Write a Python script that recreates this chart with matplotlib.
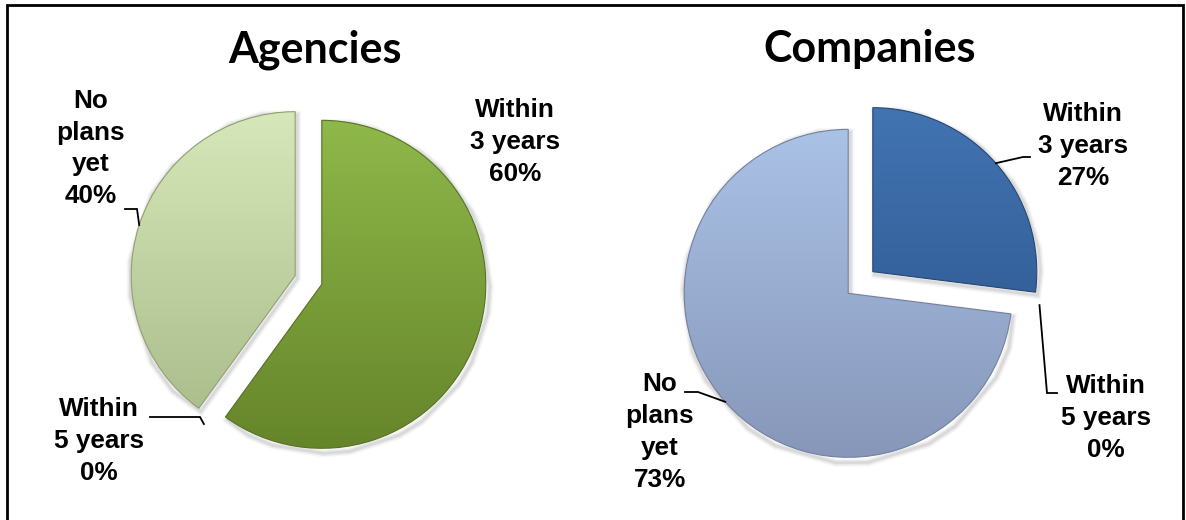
import numpy as np
import matplotlib
matplotlib.use("Agg")
import matplotlib.pyplot as plt
from matplotlib.patches import Rectangle
from matplotlib.colors import to_rgb

W, H = 1186, 520

# ---- data ----
categories = ["Within\n3 years", "Within\n5 years", "No\nplans\nyet"]
agencies = [60, 0, 40]
companies = [27, 0, 73]
titles = ["Agencies", "Companies"]

# ---- styling ----
agency_colors = [("#8fb84a", "#66852a"), ("#8fb84a", "#66852a"), ("#d6e7b9", "#a8ba88")]
company_colors = [("#4274b2", "#2a5288"), ("#4274b2", "#2a5288"), ("#aac2e6", "#8797b9")]

fig = plt.figure(figsize=(W / 100, H / 100), dpi=100)
ax = fig.add_axes([0, 0, 1, 1])


def Y(y):
    return H - y


def draw_pie(values, center, radius, explode, colors):
    wedges, _ = ax.pie(values, startangle=90, counterclock=False,
                       explode=[explode] * len(values), center=center,
                       radius=radius, frame=True,
                       wedgeprops=dict(linewidth=0))
    for w, v, (ctop, cbot) in zip(wedges, values, colors):
        if v <= 0:
            w.set_visible(False)
            continue
        cx, cy = w.center
        r = w.r
        # soft shadow
        for k, a in [(6, 0.03), (4, 0.05), (2, 0.07)]:
            sh = plt.Polygon(w.get_path().vertices + np.array([2.0, -3.0]),
                             closed=True, facecolor="none", edgecolor="black",
                             linewidth=k, alpha=a, zorder=0.5)
            ax.add_patch(sh)
        n = 256
        t = np.linspace(0, 1, n)[:, None]
        c0 = np.array(to_rgb(ctop))
        c1 = np.array(to_rgb(cbot))
        grad = (c0[None, :] * (1 - t) + c1[None, :] * t)[:, None, :]
        img = ax.imshow(grad, extent=[cx - r, cx + r, cy - r, cy + r],
                        origin="upper", aspect="auto", zorder=1,
                        interpolation="bilinear")
        img.set_clip_path(w)
        w.set_facecolor("none")
        w.set_edgecolor(tuple(c1 * 0.85))
        w.set_linewidth(0.8)
        w.set_zorder(2)
    return wedges


def anchor(w):
    mid = np.deg2rad((w.theta1 + w.theta2) / 2.0)
    return (w.center[0] + w.r * np.cos(mid), w.center[1] + w.r * np.sin(mid))


# explode is in data (pixel) units because radius is in pixels
wa = draw_pie(agencies, (308.5, Y(280)), 164, 14, agency_colors)
wc = draw_pie(companies, (860.5, Y(282.5)), 164, 16.4, company_colors)

# titles
title_font = dict(family="Lato", weight="bold", fontsize=31)
ax.text(315, Y(62), titles[0], ha="center", va="baseline", **title_font)
ax.text(870, Y(62), titles[1], ha="center", va="baseline", **title_font)

lab_font = dict(family="Liberation Sans", weight="bold", fontsize=18.8,
                ha="center", va="center", multialignment="center", linespacing=1.42)


def label(i, vals, pos):
    ax.text(pos[0], Y(pos[1]), f"{categories[i]}\n{vals[i]}%", **lab_font)


label(0, agencies, (515, 142))
label(1, agencies, (99, 441))
label(2, agencies, (91, 148.5))
label(0, companies, (1083, 146))
label(1, companies, (1106, 418))
label(2, companies, (660, 432))


def leader(w, pts):
    ax_, ay_ = anchor(w)
    xs = [p[0] for p in pts] + [ax_]
    ys = [Y(p[1]) for p in pts] + [ay_]
    ax.plot(xs, ys, color="black", lw=1.3, zorder=3, solid_joinstyle="miter")


leader(wa[2], [(125, 209), (137, 209)])
leader(wa[1], [(150, 417), (200, 417)])
leader(wc[0], [(1030, 157), (1023, 157)])
leader(wc[1], [(1057, 393), (1047, 393)])
leader(wc[2], [(685, 392), (698, 392)])

# border
ax.add_patch(Rectangle((6.5, Y(540)), 1176, 535, fill=False, lw=2.0,
                       edgecolor="black", zorder=5))

ax.set_xlim(0, W)
ax.set_ylim(0, H)
ax.set_aspect("equal")
ax.axis("off")

fig.savefig("out.png", dpi=100)
